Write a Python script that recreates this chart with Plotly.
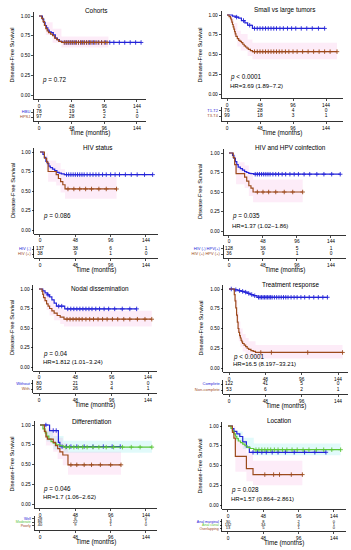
import plotly.graph_objects as go

W, H = 351, 550
FONT = "Liberation Sans, Arial, sans-serif"
BLUE = "#2424d8"
BROWN = "#9c4a1c"
GREEN = "#5ec63a"
PINK_BAND = "rgba(240,110,200,0.13)"
CYAN_BAND = "rgba(70,225,225,0.16)"

RISK_TIMES = [0, 48, 96, 144]
X_TICKS = [0, 48, 96, 144]
Y_TICKS = [0, 0.25, 0.5, 0.75, 1.0]
Y_TICK_LABELS = ["0.00", "0.25", "0.50", "0.75", "1.00"]

# ---------------- Panel 1: Cohorts
P1_TITLE = "Cohorts"
P1_LABELS = ["HBU", "HPSJ"]
P1_HBU_T = [0, 5, 7, 9, 11, 13, 15, 18, 21, 24, 27, 30, 34]
P1_HBU_S = [1, 0.96, 0.92, 0.88, 0.85, 0.82, 0.80, 0.79, 0.76, 0.72, 0.70, 0.68, 0.665]
P1_HBU_END = 150
P1_HBU_CENS = [38, 41, 44, 47, 50, 54, 58, 62, 66, 70, 74, 78, 82, 87, 92, 98, 104, 110, 118, 126, 134, 142, 150]
P1_HPSJ_T = [0, 4, 6, 8, 10, 12, 14, 17, 20, 23, 26, 29, 33]
P1_HPSJ_S = [1, 0.97, 0.93, 0.88, 0.84, 0.81, 0.79, 0.77, 0.75, 0.72, 0.70, 0.68, 0.665]
P1_HPSJ_END = 102
P1_HPSJ_CENS = [37, 40, 43, 46, 49, 52, 55, 58, 61, 64, 67, 70, 73, 76, 80, 84, 88, 92, 96, 100]
P1_HPSJ_CI_T = [0, 10, 20, 33, 102]
P1_HPSJ_CI_LO = [1, 0.76, 0.66, 0.60, 0.60]
P1_HPSJ_CI_HI = [1, 0.92, 0.84, 0.74, 0.74]
P1_RISK = [[78, 19, 5, 1], [97, 28, 2, 0]]
P1_P = "<i>p</i> = 0.72"
P1_HR = ""

# ---------------- Panel 2: Small vs large tumors
P2_TITLE = "Small vs large tumors"
P2_LABELS = ["T1-T2", "T3-T4"]
P2_A_T = [0, 8, 12, 17, 21, 26, 30, 37]
P2_A_S = [1, 0.987, 0.973, 0.96, 0.93, 0.90, 0.87, 0.83]
P2_A_END = 142
P2_A_CENS = [14, 24, 33, 40, 44, 48, 52, 56, 60, 64, 68, 72, 77, 82, 88, 94, 100, 108, 116, 124, 133, 142]
P2_B_T = [0, 3, 5, 6, 7, 8, 9, 10, 11, 12, 13, 15, 17, 19, 21, 23, 25, 27, 29, 31, 34, 37]
P2_B_S = [1, 0.98, 0.96, 0.94, 0.91, 0.88, 0.85, 0.82, 0.79, 0.76, 0.73, 0.70, 0.68, 0.665,
          0.65, 0.63, 0.61, 0.595, 0.58, 0.565, 0.55, 0.536]
P2_B_END = 160
P2_B_CENS = [40, 44, 48, 52, 56, 60, 64, 68, 72, 76, 80, 85, 90, 96, 102, 110, 118, 126, 134, 142, 150, 160]
P2_B_CI_T = [0, 5, 10, 15, 20, 30, 37, 160]
P2_B_CI_LO = [1, 0.90, 0.73, 0.60, 0.55, 0.48, 0.44, 0.44]
P2_B_CI_HI = [1, 1, 0.90, 0.80, 0.76, 0.69, 0.65, 0.65]
P2_RISK = [[76, 28, 4, 0], [99, 18, 3, 1]]
P2_P = "<i>p</i> < 0.0001"
P2_HR = "HR=3.69 (1.89\u22127.2)"

# ---------------- Panel 3: HIV status
P3_TITLE = "HIV status"
P3_LABELS = ["HIV (-)", "HIV (+)"]
P3_A_T = [0, 4, 6, 8, 10, 12, 14, 17, 20, 23, 26, 29, 33]
P3_A_S = [1, 0.97, 0.93, 0.88, 0.85, 0.82, 0.80, 0.78, 0.76, 0.74, 0.73, 0.72, 0.71]
P3_A_END = 153
P3_A_CENS = [36, 39, 42, 45, 48, 51, 54, 57, 60, 64, 68, 72, 76, 80, 85, 90, 96, 102, 108, 116, 124, 132, 142, 153]
P3_B_T = [0, 6, 9, 11, 22, 25, 28, 31, 34]
P3_B_S = [1, 0.92, 0.87, 0.75, 0.71, 0.66, 0.62, 0.58, 0.526]
P3_B_END = 104
P3_B_CENS = [38, 46, 54, 62, 70, 80, 90, 104]
P3_B_CI_T = [0, 9, 11, 22, 28, 34, 104]
P3_B_CI_LO = [1, 0.77, 0.62, 0.57, 0.48, 0.40, 0.40]
P3_B_CI_HI = [1, 0.98, 0.89, 0.86, 0.78, 0.68, 0.68]
P3_RISK = [[137, 38, 6, 1], [38, 9, 1, 0]]
P3_P = "<i>p</i> = 0.086"
P3_HR = ""

# ---------------- Panel 4: HIV and HPV coinfection
P4_TITLE = "HIV and HPV coinfection"
P4_LABELS = ["HIV (-) HPV(+)", "HIV (+) HPV (+)"]
P4_A_T = [0, 5, 7, 9, 11, 13, 16, 19, 22, 25, 28, 31, 35]
P4_A_S = [1, 0.97, 0.93, 0.89, 0.85, 0.82, 0.80, 0.78, 0.76, 0.75, 0.74, 0.735, 0.728]
P4_A_END = 157
P4_A_CENS = [37, 40, 43, 46, 49, 52, 55, 58, 62, 66, 70, 75, 80, 86, 92, 98, 106, 114, 124, 134, 145, 157]
P4_B_T = [0, 6, 8, 10, 22, 25, 28, 31, 34]
P4_B_S = [1, 0.94, 0.85, 0.735, 0.69, 0.64, 0.58, 0.55, 0.50]
P4_B_END = 104
P4_B_CENS = [40, 48, 56, 66, 78, 90, 104]
P4_B_CI_T = [0, 8, 10, 22, 28, 34, 104]
P4_B_CI_LO = [1, 0.74, 0.60, 0.55, 0.45, 0.37, 0.37]
P4_B_CI_HI = [1, 0.97, 0.88, 0.84, 0.73, 0.66, 0.66]
P4_RISK = [[128, 36, 5, 1], [36, 9, 1, 0]]
P4_P = "<i>p</i> = 0.035"
P4_HR = "HR=1.37 (1.02\u22121.86)"

# ---------------- Panel 5: Nodal dissemination
P5_TITLE = "Nodal dissemination"
P5_LABELS = ["Without", "With"]
P5_A_T = [0, 5, 8, 11, 14, 17, 20, 23, 34]
P5_A_S = [1, 0.975, 0.95, 0.925, 0.90, 0.86, 0.82, 0.78, 0.745]
P5_A_END = 129
P5_A_CENS = [12, 26, 30, 38, 42, 46, 50, 54, 58, 62, 66, 70, 75, 80, 86, 92, 100, 110, 120, 129]
P5_B_T = [0, 4, 5, 6, 8, 10, 12, 14, 17, 20, 24, 28, 33]
P5_B_S = [1, 0.97, 0.93, 0.89, 0.85, 0.81, 0.78, 0.75, 0.72, 0.69, 0.66, 0.64, 0.613]
P5_B_END = 149
P5_B_CENS = [37, 41, 45, 49, 53, 57, 62, 67, 72, 78, 84, 90, 97, 104, 112, 120, 130, 140, 149]
P5_B_CI_T = [0, 6, 10, 14, 20, 28, 33, 149]
P5_B_CI_LO = [1, 0.83, 0.73, 0.66, 0.60, 0.55, 0.52, 0.52]
P5_B_CI_HI = [1, 0.96, 0.90, 0.85, 0.79, 0.75, 0.72, 0.72]
P5_RISK = [[80, 21, 3, 0], [95, 26, 4, 1]]
P5_P = "<i>p</i> = 0.04"
P5_HR = "HR=1.812 (1.01\u22123.24)"

# ---------------- Panel 6: Treatment response
P6_TITLE = "Treatment response"
P6_LABELS = ["Complete", "Non-complete"]
P6_A_T = [0, 7, 12, 16, 20, 24, 28, 32, 37]
P6_A_S = [1, 0.99, 0.98, 0.97, 0.96, 0.945, 0.93, 0.915, 0.895]
P6_A_END = 130
P6_A_CENS = [3, 9, 14, 18, 22, 26, 30, 34, 39, 41, 43, 45, 47, 49, 51, 53, 55, 57, 60, 63, 66, 69, 72, 75,
             78, 82, 86, 90, 95, 100, 106, 112, 118, 124, 130]
P6_B_T = [0, 7, 8, 9, 10, 11, 12, 13, 14, 15, 16, 17, 18, 20, 22, 24, 26, 29, 32, 35]
P6_B_S = [1, 0.93, 0.85, 0.76, 0.67, 0.58, 0.50, 0.45, 0.41, 0.38, 0.35, 0.33, 0.31, 0.29,
          0.27, 0.25, 0.235, 0.22, 0.21, 0.197]
P6_B_END = 150
P6_B_CENS = [42, 56, 104, 150]
P6_B_CI_T = [0, 7, 9, 11, 13, 15, 18, 22, 26, 35, 150]
P6_B_CI_LO = [1, 0.86, 0.64, 0.46, 0.34, 0.27, 0.21, 0.17, 0.14, 0.12, 0.12]
P6_B_CI_HI = [1, 1, 0.88, 0.71, 0.59, 0.50, 0.43, 0.38, 0.34, 0.29, 0.29]
P6_RISK = [[122, 41, 5, 0], [53, 6, 2, 1]]
P6_P = "<i>p</i> < 0.0001"
P6_HR = "HR=16.5 (8.197\u221233.21)"

# ---------------- Panel 7: Differentiation
P7_TITLE = "Differentiation"
P7_LABELS = ["Well", "Moderate", "Poorly"]
P7_A_T = [0, 13, 25, 27]
P7_A_S = [1, 0.93, 0.78, 0.727]
P7_A_END = 109
P7_A_CENS = [8, 18, 22, 30, 36, 42, 50, 60, 72, 86, 98, 109]
P7_B_T = [0, 4, 7, 9, 12, 15, 18, 22, 27, 32]
P7_B_S = [1, 0.95, 0.90, 0.86, 0.82, 0.79, 0.77, 0.75, 0.735, 0.72]
P7_B_END = 152
P7_B_CENS = [35, 40, 46, 52, 58, 64, 72, 80, 90, 100, 112, 124, 136, 152]
P7_B_CI_T = [0, 9, 18, 32, 152]
P7_B_CI_LO = [1, 0.79, 0.69, 0.65, 0.65]
P7_B_CI_HI = [1, 0.93, 0.86, 0.80, 0.80]
P7_C_T = [0, 6, 8, 10, 18, 21, 24, 27, 31, 38]
P7_C_S = [1, 0.92, 0.85, 0.82, 0.78, 0.74, 0.70, 0.66, 0.62, 0.496]
P7_C_END = 110
P7_C_CENS = [42, 50, 60, 70, 82, 96, 110]
P7_C_CI_T = [0, 8, 18, 24, 31, 38, 110]
P7_C_CI_LO = [1, 0.74, 0.66, 0.57, 0.49, 0.37, 0.37]
P7_C_CI_HI = [1, 0.96, 0.91, 0.84, 0.77, 0.66, 0.66]
P7_RISK = [[28, 6, 1, 0], [86, 22, 4, 1], [40, 9, 1, 0]]
P7_P = "<i>p</i> = 0.046"
P7_HR = "HR=1.7 (1.06\u22122.62)"

# ---------------- Panel 8: Location
P8_TITLE = "Location"
P8_LABELS = ["Anal marginal", "Anal canal", "Overlapping"]
P8_A_T = [0, 6, 8, 12, 16, 20, 25, 29]
P8_A_S = [1, 0.967, 0.933, 0.90, 0.867, 0.80, 0.733, 0.667]
P8_A_END = 133
P8_A_CENS = [34, 40, 46, 52, 60, 68, 78, 90, 104, 118, 133]
P8_B_T = [0, 4, 6, 8, 10, 12, 14, 17, 20, 23, 26, 30, 35]
P8_B_S = [1, 0.97, 0.94, 0.90, 0.87, 0.84, 0.81, 0.79, 0.77, 0.75, 0.73, 0.715, 0.70]
P8_B_END = 153
P8_B_CENS = [38, 42, 46, 50, 54, 58, 63, 68, 74, 80, 87, 94, 102, 110, 120, 130, 141, 153]
P8_B_CI_T = [0, 10, 20, 35, 153]
P8_B_CI_LO = [1, 0.81, 0.71, 0.63, 0.63]
P8_B_CI_HI = [1, 0.93, 0.85, 0.78, 0.78]
P8_C_T = [0, 6, 8, 10, 25, 34]
P8_C_S = [1, 0.92, 0.846, 0.615, 0.46, 0.385]
P8_C_END = 101
P8_C_CENS = [50, 62, 70, 86, 101]
P8_C_CI_T = [0, 8, 10, 25, 34, 101]
P8_C_CI_LO = [1, 0.70, 0.42, 0.30, 0.25, 0.25]
P8_C_CI_HI = [1, 1, 0.82, 0.66, 0.56, 0.56]
P8_RISK = [[30, 8, 2, 0], [132, 34, 4, 1], [13, 5, 1, 0]]
P8_P = "<i>p</i> = 0.028"
P8_HR = "HR=1.57 (0.864\u22122.861)"

PANELS = [
    dict(title=P1_TITLE, labels=P1_LABELS, risk=P1_RISK, p=P1_P, hr=P1_HR, py_txt=(0.19, 0.09),
         bands=[(P1_HPSJ_CI_T, P1_HPSJ_CI_LO, P1_HPSJ_CI_HI, PINK_BAND)],
         curves=[(P1_HBU_T, P1_HBU_S, P1_HBU_END, P1_HBU_CENS, BLUE),
                 (P1_HPSJ_T, P1_HPSJ_S, P1_HPSJ_END, P1_HPSJ_CENS, BROWN)]),
    dict(title=P2_TITLE, labels=P2_LABELS, risk=P2_RISK, p=P2_P, hr=P2_HR, py_txt=(0.21, 0.10),
         bands=[(P2_B_CI_T, P2_B_CI_LO, P2_B_CI_HI, PINK_BAND)],
         curves=[(P2_A_T, P2_A_S, P2_A_END, P2_A_CENS, BLUE),
                 (P2_B_T, P2_B_S, P2_B_END, P2_B_CENS, BROWN)]),
    dict(title=P3_TITLE, labels=P3_LABELS, risk=P3_RISK, p=P3_P, hr=P3_HR, py_txt=(0.18, 0.08),
         bands=[(P3_B_CI_T, P3_B_CI_LO, P3_B_CI_HI, PINK_BAND)],
         curves=[(P3_A_T, P3_A_S, P3_A_END, P3_A_CENS, BLUE),
                 (P3_B_T, P3_B_S, P3_B_END, P3_B_CENS, BROWN)]),
    dict(title=P4_TITLE, labels=P4_LABELS, risk=P4_RISK, p=P4_P, hr=P4_HR, py_txt=(0.19, 0.065),
         bands=[(P4_B_CI_T, P4_B_CI_LO, P4_B_CI_HI, PINK_BAND)],
         curves=[(P4_A_T, P4_A_S, P4_A_END, P4_A_CENS, BLUE),
                 (P4_B_T, P4_B_S, P4_B_END, P4_B_CENS, BROWN)]),
    dict(title=P5_TITLE, labels=P5_LABELS, risk=P5_RISK, p=P5_P, hr=P5_HR, py_txt=(0.17, 0.065),
         bands=[(P5_B_CI_T, P5_B_CI_LO, P5_B_CI_HI, PINK_BAND)],
         curves=[(P5_A_T, P5_A_S, P5_A_END, P5_A_CENS, BLUE),
                 (P5_B_T, P5_B_S, P5_B_END, P5_B_CENS, BROWN)]),
    dict(title=P6_TITLE, labels=P6_LABELS, risk=P6_RISK, p=P6_P, hr=P6_HR, py_txt=(0.135, 0.05),
         bands=[(P6_B_CI_T, P6_B_CI_LO, P6_B_CI_HI, PINK_BAND)],
         curves=[(P6_A_T, P6_A_S, P6_A_END, P6_A_CENS, BLUE),
                 (P6_B_T, P6_B_S, P6_B_END, P6_B_CENS, BROWN)]),
    dict(title=P7_TITLE, labels=P7_LABELS, risk=P7_RISK, p=P7_P, hr=P7_HR, py_txt=(0.19, 0.09),
         bands=[(P7_B_CI_T, P7_B_CI_LO, P7_B_CI_HI, CYAN_BAND),
                (P7_C_CI_T, P7_C_CI_LO, P7_C_CI_HI, PINK_BAND)],
         curves=[(P7_A_T, P7_A_S, P7_A_END, P7_A_CENS, BLUE),
                 (P7_B_T, P7_B_S, P7_B_END, P7_B_CENS, GREEN),
                 (P7_C_T, P7_C_S, P7_C_END, P7_C_CENS, BROWN)]),
    dict(title=P8_TITLE, labels=P8_LABELS, risk=P8_RISK, p=P8_P, hr=P8_HR, py_txt=(0.185, 0.08),
         bands=[(P8_B_CI_T, P8_B_CI_LO, P8_B_CI_HI, CYAN_BAND),
                (P8_C_CI_T, P8_C_CI_LO, P8_C_CI_HI, PINK_BAND)],
         curves=[(P8_A_T, P8_A_S, P8_A_END, P8_A_CENS, BLUE),
                 (P8_B_T, P8_B_S, P8_B_END, P8_B_CENS, GREEN),
                 (P8_C_T, P8_C_S, P8_C_END, P8_C_CENS, BROWN)]),
]

# layout geometry (pixels) for each panel
GEO = [
    dict(px0=39, px144=137, py1=16, py0=95, xmax=150, rows=[112, 117], rb=121, tx=96, ty=10, ytx=12),
    dict(px0=227, px144=326, py1=15, py0=94, xmax=160, rows=[110.5, 116], rb=121, tx=284, ty=10, ytx=199),
    dict(px0=40, px144=146, py1=152, py0=230, xmax=153, rows=[249, 254], rb=258, tx=97, ty=147, ytx=13),
    dict(px0=229, px144=331, py1=153, py0=231, xmax=157, rows=[248.5, 254], rb=258, tx=290, ty=147, ytx=200),
    dict(px0=39, px144=148, py1=289, py0=367, xmax=149, rows=[383.5, 389], rb=393, tx=100, ty=288, ytx=12),
    dict(px0=229, px144=338, py1=289, py0=368, xmax=150, rows=[384, 390], rb=394, tx=290, ty=285, ytx=200),
    dict(px0=40, px144=146, py1=425, py0=504, xmax=152, rows=[518.5, 522, 525.5], rb=530, tx=92, ty=421, ytx=12),
    dict(px0=228, px144=334, py1=426, py0=505, xmax=153, rows=[521.5, 525, 528.5], rb=531.5, tx=279, ty=420, ytx=199),
]


def step_value(T, S, t):
    v = S[0]
    for ti, si in zip(T, S):
        if ti <= t:
            v = si
    return v


fig = go.Figure()
layout = dict(
    width=W, height=H, margin=dict(l=0, r=0, t=0, b=0),
    paper_bgcolor="white", plot_bgcolor="rgba(0,0,0,0)",
    showlegend=False, font=dict(family=FONT, color="black"),
)
annotations = []

AX_COMMON = dict(showgrid=False, zeroline=False, showline=True, linecolor="black", linewidth=0.8,
                 ticks="outside", ticklen=2, tickwidth=0.7, tickcolor="black",
                 tickfont=dict(size=4.8, family=FONT, color="black"))

for i, (P, G) in enumerate(zip(PANELS, GEO)):
    ka = 2 * i + 1
    ra = 2 * i + 2
    ppm = (G["px144"] - G["px0"]) / 144.0
    xr = [-0.05 * G["xmax"], 1.05 * G["xmax"]]
    xL = G["px0"] + xr[0] * ppm
    xR = G["px0"] + xr[1] * ppm
    xdom = [xL / W, xR / W]
    ppu = G["py0"] - G["py1"]
    ytop = G["py1"] - 0.05 * ppu
    ybot = G["py0"] + 0.05 * ppu
    ydom = [1 - ybot / H, 1 - ytop / H]

    xk = "x" if ka == 1 else f"x{ka}"
    yk = "y" if ka == 1 else f"y{ka}"
    xr_ = f"x{ra}"
    yr_ = f"y{ra}"

    layout[f"xaxis{ka}"] = dict(AX_COMMON, domain=xdom, range=xr, anchor=yk,
                                tickvals=X_TICKS, ticktext=[str(v) for v in X_TICKS])
    layout[f"yaxis{ka}"] = dict(AX_COMMON, domain=ydom, range=[-0.05, 1.05], anchor=xk,
                                tickvals=Y_TICKS, ticktext=Y_TICK_LABELS)

    # confidence bands
    for (CT, LO, HI, fc) in P["bands"]:
        fig.add_trace(go.Scatter(x=CT, y=LO, mode="lines", line=dict(width=0, shape="hv"),
                                 xaxis=xk, yaxis=yk, hoverinfo="skip"))
        fig.add_trace(go.Scatter(x=CT, y=HI, mode="lines", line=dict(width=0, shape="hv"),
                                 fill="tonexty", fillcolor=fc,
                                 xaxis=xk, yaxis=yk, hoverinfo="skip"))

    # KM curves
    for (T, S, end, cens, col) in P["curves"]:
        fig.add_trace(go.Scatter(x=list(T) + [end], y=list(S) + [S[-1]], mode="lines",
                                 line=dict(color=col, width=1.2, shape="hv"),
                                 xaxis=xk, yaxis=yk, hoverinfo="skip"))
        fig.add_trace(go.Scatter(x=cens, y=[step_value(T, S, c) for c in cens], mode="markers",
                                 marker=dict(symbol="cross-thin", size=3.2,
                                             line=dict(color=col, width=0.9)),
                                 xaxis=xk, yaxis=yk, hoverinfo="skip"))

    # p / HR text
    annotations.append(dict(text=P["p"], x=2, y=P["py_txt"][0], xref=xk, yref=yk, showarrow=False,
                            xanchor="left", yanchor="middle", font=dict(size=6.3, family=FONT)))
    if P["hr"]:
        annotations.append(dict(text=P["hr"], x=2, y=P["py_txt"][1], xref=xk, yref=yk, showarrow=False,
                                xanchor="left", yanchor="middle", font=dict(size=6.0, family=FONT)))

    # titles
    annotations.append(dict(text=P["title"], x=G["tx"] / W, y=1 - G["ty"] / H, xref="paper", yref="paper",
                            showarrow=False, xanchor="center", yanchor="middle",
                            font=dict(size=6.4, family=FONT)))
    annotations.append(dict(text="Disease-Free Survival", x=G["ytx"] / W, y=(ydom[0] + ydom[1]) / 2,
                            xref="paper", yref="paper", showarrow=False, textangle=-90,
                            xanchor="center", yanchor="middle", font=dict(size=5.6, family=FONT)))

    # risk table
    rows = G["rows"]
    n = len(rows)
    s = rows[1] - rows[0]
    lo = 1 - (G["rb"] - rows[-1]) / s
    hi = n + 0.6
    rtop = G["rb"] - (hi - lo) * s
    rdom = [1 - G["rb"] / H, 1 - rtop / H]
    colors = [c[4] for c in P["curves"]]
    num_size = 4.8 if n == 2 else 4.0
    lab_size = 4.0 if n == 2 else 3.6
    layout[f"xaxis{ra}"] = dict(AX_COMMON, domain=xdom, range=xr, anchor=yr_,
                                tickvals=X_TICKS, ticktext=[str(v) for v in X_TICKS])
    layout[f"yaxis{ra}"] = dict(AX_COMMON, domain=rdom, range=[lo, hi], anchor=xr_,
                                tickvals=[n - k for k in range(n)],
                                ticktext=[f"<span style='color:{colors[k]}'>{P['labels'][k]}</span>"
                                          for k in range(n)],
                                tickfont=dict(size=lab_size, family=FONT))
    for k in range(n):
        fig.add_trace(go.Scatter(x=RISK_TIMES, y=[n - k] * len(RISK_TIMES), mode="text",
                                 text=[str(v) for v in P["risk"][k]],
                                 textfont=dict(size=num_size, family=FONT, color="black"),
                                 textposition="middle center", xaxis=xr_, yaxis=yr_,
                                 hoverinfo="skip", cliponaxis=False))
    annotations.append(dict(text="Time (months)", x=(xdom[0] + xdom[1]) / 2, y=1 - (G["rb"] + 11.5) / H,
                            xref="paper", yref="paper", showarrow=False, xanchor="center",
                            yanchor="middle", font=dict(size=6.3, family=FONT)))

layout["annotations"] = annotations
fig.update_layout(**layout)
fig.write_html("out.html", config={"displayModeBar": False, "staticPlot": True},
               post_script="document.body.style.margin='0';document.body.style.padding='0';")
